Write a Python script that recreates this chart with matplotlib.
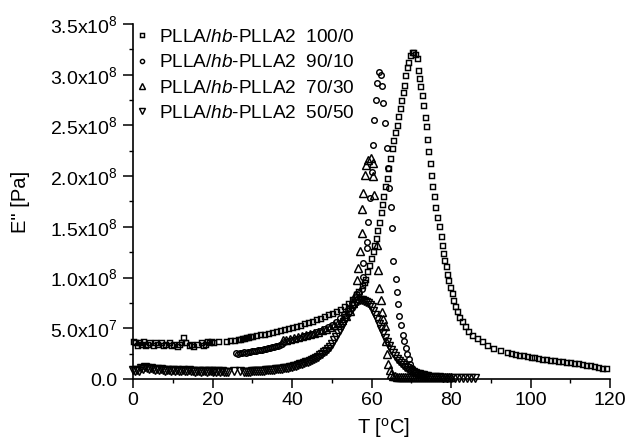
import numpy as np
import matplotlib
matplotlib.use('Agg')
import matplotlib.pyplot as plt
from matplotlib.ticker import MultipleLocator, FixedLocator, FixedFormatter

plt.rcParams['font.family'] = ['Liberation Sans', 'DejaVu Sans']
plt.rcParams['mathtext.fontset'] = 'custom'
plt.rcParams['mathtext.rm'] = 'Liberation Sans'
plt.rcParams['mathtext.it'] = 'Liberation Sans:italic'
plt.rcParams['mathtext.bf'] = 'Liberation Sans:bold'

# ---------------- data (E'' in units of 1e8 Pa) ----------------
T_100 = [0, 0.5, 1, 1.5, 2, 2.5, 3, 3.5, 4, 5, 5.5, 6, 7, 7.5, 8, 9, 9.5, 10, 11, 11.5,
         12, 12.6, 13, 14, 14.5, 15, 16, 17, 17.5, 18, 18.5, 19, 19.5, 20, 21.4, 23.5, 24.5,
         25.5, 26.5, 27, 27.5, 28, 28.5, 29, 29.5, 30, 31, 32, 33, 34, 35, 36, 37, 38, 39,
         40, 41, 42, 43, 44, 45, 46, 47, 48, 49, 50, 51, 52, 53, 54, 55, 56, 56.7, 57.5, 58,
         58.4, 58.8, 59.4, 59.8, 60.3, 60.7, 61.1, 61.5, 61.9, 62.3, 62.7, 63, 63.4, 63.8,
         64.2, 64.7, 65.1, 65.5, 65.9, 66.3, 66.7, 67.2, 67.5, 67.8, 68.1, 68.4, 68.9, 69.3,
         69.7, 70.1, 70.5, 70.9, 71.5, 71.7, 72.0, 72.2, 72.7, 73.0, 73.5, 73.7, 74.0, 74.2,
         74.7, 75.0, 75.3, 75.7, 76.0, 76.5, 77.0, 77.4, 77.7, 78.1, 78.3, 78.7, 78.9, 79.3,
         79.7, 80.2, 80.6, 81.0, 81.4, 82.0, 82.7, 83.5, 84.4, 85.2, 86.5, 87.7, 89.0, 90.6,
         92.3, 94, 95, 96, 97, 98, 99, 100, 101, 102, 103, 104, 105, 106, 107, 108, 109, 110,
         111, 112, 113, 114, 115, 116, 117, 118, 119]
E_100 = [0.37, 0.36, 0.34, 0.36, 0.35, 0.37, 0.34, 0.35, 0.36, 0.34, 0.36, 0.35, 0.36, 0.34,
         0.35, 0.36, 0.34, 0.35, 0.33, 0.35, 0.36, 0.41, 0.36, 0.34, 0.35, 0.33, 0.35, 0.36,
         0.34, 0.35, 0.37, 0.36, 0.37, 0.36, 0.37, 0.37, 0.38, 0.38, 0.39, 0.39, 0.40, 0.40,
         0.41, 0.41, 0.42, 0.42, 0.43, 0.44, 0.44, 0.45, 0.46, 0.47, 0.48, 0.49, 0.50, 0.51,
         0.52, 0.53, 0.55, 0.56, 0.57, 0.59, 0.60, 0.62, 0.64, 0.65, 0.67, 0.69, 0.72, 0.75,
         0.79, 0.84, 0.87, 0.93, 0.96, 0.99, 1.06, 1.12, 1.19, 1.26, 1.32, 1.39, 1.47, 1.55,
         1.65, 1.73, 1.80, 1.90, 1.98, 2.08, 2.18, 2.28, 2.36, 2.44, 2.50, 2.59, 2.67, 2.75,
         2.83, 2.90, 3.00, 3.08, 3.13, 3.19, 3.22, 3.22, 3.20, 3.16, 3.05, 2.97, 2.89, 2.80,
         2.70, 2.58, 2.49, 2.37, 2.25, 2.13, 2.01, 1.90, 1.80, 1.70, 1.60, 1.51, 1.41, 1.32,
         1.24, 1.17, 1.11, 1.04, 0.98, 0.91, 0.85, 0.78, 0.72, 0.67, 0.61, 0.57, 0.52, 0.47,
         0.43, 0.40, 0.37, 0.34, 0.31, 0.29, 0.265, 0.255, 0.248, 0.24, 0.233, 0.226, 0.22,
         0.213, 0.207, 0.201, 0.196, 0.19, 0.185, 0.18, 0.175, 0.17, 0.165, 0.16, 0.155, 0.15,
         0.142, 0.135, 0.128, 0.12, 0.113, 0.106]

T_90 = [26, 26.5, 27, 27.5, 28, 28.5, 29, 29.5, 30, 30.5, 31, 31.5, 32, 32.5, 33, 33.5, 34,
        34.5, 35, 35.5, 36, 36.5, 37, 37.5, 38, 39, 40, 41, 42, 43, 44, 45, 46, 47, 48, 49,
        50, 51, 52, 53, 54, 55, 56, 56.8, 57.5, 57.8, 57.9, 58.8, 58.9, 59.2, 59.6, 60.0,
        60.3, 60.7, 61.1, 61.3, 61.9, 62.3, 62.7, 63.0, 63.4, 63.8, 64.2, 64.5, 64.8, 65.1,
        65.5, 66.1, 66.5, 66.7, 67.0, 67.4, 67.8, 68.2, 68.6, 69.0, 69.4, 69.8, 70.3, 71.0,
        72.0, 73.0]
E_90 = [0.26, 0.25, 0.26, 0.26, 0.27, 0.26, 0.27, 0.27, 0.28, 0.28, 0.28, 0.29, 0.29, 0.29,
        0.30, 0.30, 0.31, 0.31, 0.32, 0.32, 0.33, 0.33, 0.34, 0.35, 0.36, 0.37, 0.38, 0.39,
        0.40, 0.42, 0.43, 0.44, 0.46, 0.47, 0.49, 0.51, 0.53, 0.56, 0.60, 0.64, 0.69, 0.75,
        0.81, 0.85, 0.89, 1.01, 1.14, 1.29, 1.35, 1.55, 1.78, 2.04, 2.31, 2.55, 2.75, 2.92,
        3.03, 3.00, 2.89, 2.72, 2.52, 2.28, 2.08, 1.88, 1.70, 1.49, 1.16, 0.99, 0.86, 0.74,
        0.62, 0.53, 0.43, 0.37, 0.31, 0.25, 0.20, 0.15, 0.11, 0.07, 0.04, 0.03]

T_70 = [37.7, 38.5, 39.5, 40.5, 41.5, 42.5, 43.5, 44.5, 45.5, 46.5, 47.5, 48.5, 49.5, 50.5,
        51.5, 52.5, 53.5, 54.5, 55.3, 55.8, 56.3, 56.7, 57.1, 57.5, 57.7, 57.9, 58.4, 58.6,
        59.2, 59.8, 60.3, 60.5, 60.7, 61.3, 61.7, 62.0, 62.3, 62.6, 63.0, 63.4, 63.7, 63.8,
        64.2, 64.7, 65.0, 65.5, 66, 66.5, 67, 67.5, 68, 68.5, 69, 69.5, 70, 70.5, 71, 71.5,
        72, 72.5, 73, 73.5, 74, 74.5, 75, 75.5, 76, 76.5, 77, 77.5, 78, 78.5, 79, 79.5, 80]
E_70 = [0.38, 0.38, 0.39, 0.40, 0.41, 0.42, 0.43, 0.44, 0.45, 0.46, 0.48, 0.49, 0.51, 0.53,
        0.55, 0.58, 0.62, 0.67, 0.75, 0.83, 0.98, 1.09, 1.26, 1.44, 1.68, 1.83, 2.01, 2.11,
        2.16, 2.18, 2.13, 2.00, 1.81, 1.32, 1.07, 0.90, 0.78, 0.66, 0.59, 0.52, 0.37, 0.25,
        0.15, 0.09, 0.05, 0.03, 0.025, 0.02, 0.02, 0.02, 0.02, 0.02, 0.02, 0.02, 0.02, 0.015,
        0.015, 0.015, 0.015, 0.015, 0.015, 0.015, 0.015, 0.015, 0.015, 0.015, 0.015, 0.015,
        0.015, 0.015, 0.015, 0.015, 0.015, 0.015, 0.015]

T_50 = [0, 0.5, 1, 1.5, 2, 2.5, 3, 3.5, 4, 4.5, 5, 5.5, 6, 6.5, 7, 7.5, 8, 8.5, 9, 9.5, 10,
        10.5, 11, 11.5, 12, 12.5, 13, 13.5, 14, 14.5, 15, 15.5, 16, 16.5, 17, 17.5, 18, 18.5,
        19, 19.5, 20, 20.5, 21, 21.5, 22, 22.5, 23, 23.5, 24, 25.5, 26.8, 28, 28.5, 29, 29.5,
        30, 30.5, 31, 31.5, 32, 32.5, 33, 33.5, 34, 34.5, 35, 35.5, 36, 36.5, 37, 37.5, 38,
        38.5, 39, 39.5, 40, 40.5, 41, 41.5, 42, 42.5, 43, 43.5, 44, 44.5, 45, 45.5, 46, 46.5,
        47, 47.5, 48, 48.5, 49, 49.5, 50, 50.5, 51, 51.5, 52, 52.5, 53, 53.5, 54, 54.5, 55,
        55.5, 56, 56.5, 57, 57.5, 58, 58.5, 59, 59.5, 60, 60.5, 61, 61.5, 62, 62.5, 63, 63.5,
        64, 64.5, 65, 65.5, 66, 66.5, 67, 67.5, 68, 68.5, 69, 69.5, 70, 70.5, 71, 71.5, 72,
        72.5, 73, 73.5, 74, 75, 76, 77, 78, 79, 80, 81, 82, 83, 84, 85, 86]
E_50 = [0.09, 0.08, 0.09, 0.08, 0.11, 0.10, 0.12, 0.11, 0.10, 0.11, 0.10, 0.09, 0.10, 0.09,
        0.10, 0.09, 0.08, 0.09, 0.09, 0.08, 0.09, 0.08, 0.09, 0.08, 0.08, 0.09, 0.08, 0.08,
        0.09, 0.08, 0.08, 0.07, 0.08, 0.08, 0.07, 0.08, 0.08, 0.07, 0.08, 0.08, 0.07, 0.08,
        0.07, 0.08, 0.07, 0.08, 0.07, 0.07, 0.07, 0.08, 0.08, 0.07, 0.07, 0.07, 0.07, 0.08,
        0.08, 0.08, 0.08, 0.08, 0.08, 0.08, 0.09, 0.09, 0.09, 0.09, 0.09, 0.10, 0.10, 0.10,
        0.10, 0.11, 0.11, 0.11, 0.12, 0.12, 0.13, 0.13, 0.14, 0.15, 0.15, 0.16, 0.17, 0.17,
        0.18, 0.19, 0.20, 0.21, 0.22, 0.24, 0.25, 0.27, 0.28, 0.30, 0.32, 0.35, 0.38, 0.41,
        0.45, 0.48, 0.52, 0.56, 0.60, 0.63, 0.66, 0.69, 0.72, 0.75, 0.77, 0.78, 0.78, 0.77,
        0.76, 0.75, 0.73, 0.71, 0.67, 0.63, 0.59, 0.54, 0.49, 0.45, 0.40, 0.36, 0.33, 0.29,
        0.26, 0.23, 0.20, 0.18, 0.16, 0.14, 0.12, 0.105, 0.09, 0.08, 0.07, 0.06, 0.05, 0.045,
        0.04, 0.035, 0.03, 0.025, 0.02, 0.015, 0.015, 0.01, 0.01, 0.01, 0.01, 0.01, 0.01,
        0.01, 0.01, 0.01]

labels = [r"PLLA/$\mathit{hb}$-PLLA2  100/0",
          r"PLLA/$\mathit{hb}$-PLLA2  90/10",
          r"PLLA/$\mathit{hb}$-PLLA2  70/30",
          r"PLLA/$\mathit{hb}$-PLLA2  50/50"]

y_ticks = [0, 0.5e8, 1.0e8, 1.5e8, 2.0e8, 2.5e8, 3.0e8, 3.5e8]
y_ticklabels = ["0.0", r"5.0x10$^{7}$", r"1.0x10$^{8}$", r"1.5x10$^{8}$", r"2.0x10$^{8}$",
                r"2.5x10$^{8}$", r"3.0x10$^{8}$", r"3.5x10$^{8}$"]
x_ticks = [0, 20, 40, 60, 80, 100, 120]

# ---------------- figure ----------------
W, H = 631, 440
fig = plt.figure(figsize=(W / 100, H / 100), dpi=100)
ax = fig.add_axes([133 / W, 1 - 379 / H, (610 - 133) / W, (379 - 24) / H])

series = [(T_100, E_100, 's', 3.6), (T_90, E_90, 'o', 4.0),
          (T_70, E_70, '^', 6.2), (T_50, E_50, 'v', 5.8)]
handles = []
for (T, E, m, ms), lab in zip(series, labels):
    h, = ax.plot(T, np.array(E) * 1e8, linestyle='none', marker=m, ms=ms,
                 mfc='none', mec='black', mew=1.05, clip_on=False, label=lab)
    handles.append(h)

ax.set_xlim(0, 120)
ax.set_ylim(0, 3.5e8)
ax.spines['top'].set_visible(False)
ax.spines['right'].set_visible(False)
for s in ['left', 'bottom']:
    ax.spines[s].set_linewidth(1.2)

ax.xaxis.set_major_locator(FixedLocator(x_ticks))
ax.xaxis.set_minor_locator(MultipleLocator(10))
ax.yaxis.set_major_locator(FixedLocator(y_ticks))
ax.yaxis.set_major_formatter(FixedFormatter(y_ticklabels))
ax.yaxis.set_minor_locator(MultipleLocator(0.25e8))
ax.tick_params(which='major', direction='out', length=6.5, width=1.1, labelsize=14, pad=3)
ax.tick_params(axis='y', which='major', length=7, pad=4)
ax.tick_params(which='minor', direction='out', length=3.2, width=1.0)

ax.set_xlabel(u"T [$^{\\rm o}$C]", fontsize=14.5)
ax.xaxis.set_label_coords(0.526, -0.138)
ax.xaxis.label.set_verticalalignment('center')
ax.set_ylabel('E" [Pa]', fontsize=14.5)
ax.yaxis.set_label_coords((21 - 133) / (610 - 133), 0.5)
ax.yaxis.label.set_verticalalignment('center')

leg = ax.legend(handles=handles, loc='upper left', bbox_to_anchor=(131 / W, 1 - 25 / H),
                bbox_transform=fig.transFigure, frameon=False, fontsize=13.7,
                handlelength=0.8, handletextpad=0.45, labelspacing=0.42,
                borderpad=0.2, borderaxespad=0.0, markerscale=0.75)

fig.savefig('out.png', dpi=100)
